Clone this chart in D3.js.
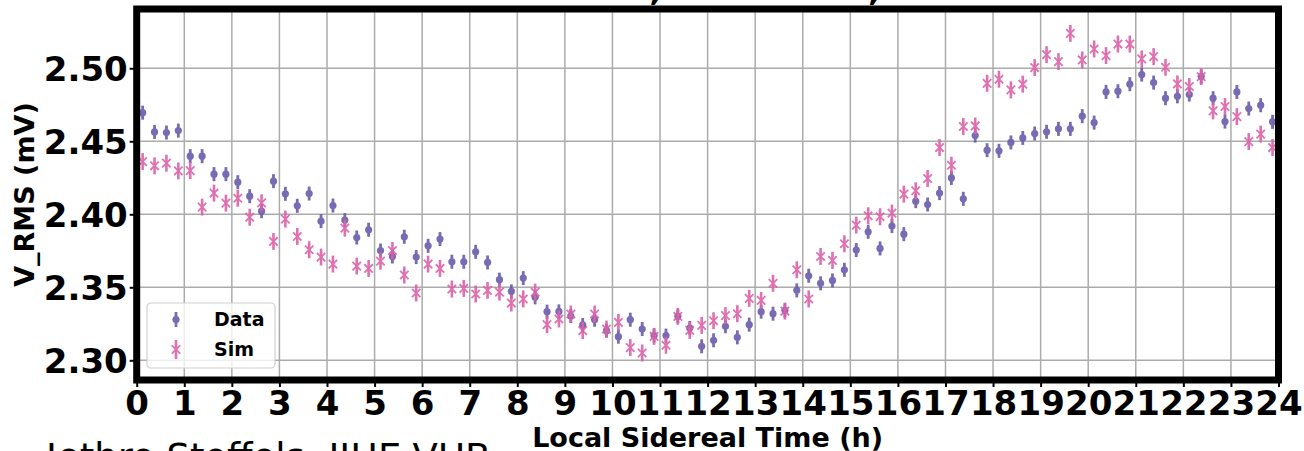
<!DOCTYPE html>
<html>
<head>
<meta charset="utf-8">
<script src="https://cdn.jsdelivr.net/npm/d3@7"></script>
<style>
  body { margin: 0; background: #fff; }
  svg { display: block; font-family: "DejaVu Sans", sans-serif; }
</style>
</head>
<body>
<div id="chart"></div>
<script>
// LST bin centres (h), 15 minute bins
const lst = d3.range(96).map((i) => 0.125 + i * 0.25);

// Measured V_RMS (mV)
const dataVrms = [
  2.4696, 2.4564, 2.4560, 2.4573, 2.4398, 2.4398, 2.4275, 2.4275, 2.4220, 2.4124,
  2.4021, 2.4227, 2.4140, 2.4058, 2.4142, 2.3953, 2.4060, 2.3960, 2.3841, 2.3894,
  2.3752, 2.3711, 2.3846, 2.3707, 2.3784, 2.3830, 2.3675, 2.3675, 2.3743, 2.3670,
  2.3552, 2.3472, 2.3563, 2.3431, 2.3333, 2.3335, 2.3303, 2.3242, 2.3278, 2.3203,
  2.3162, 2.3278, 2.3214, 2.3169, 2.3169, 2.3301, 2.3221, 2.3096, 2.3137, 2.3233,
  2.3157, 2.3244, 2.3333, 2.3319, 2.3342, 2.3479, 2.3579, 2.3527, 2.3547, 2.3620,
  2.3755, 2.3880, 2.3766, 2.3919, 2.3864, 2.4090, 2.4067, 2.4145, 2.4249, 2.4106,
  2.4539, 2.4439, 2.4435, 2.4492, 2.4523, 2.4553, 2.4565, 2.4585, 2.4585, 2.4672,
  2.4628, 2.4838, 2.4843, 2.4891, 2.4957, 2.4902, 2.4795, 2.4808, 2.4820, 2.4943,
  2.4795, 2.4635, 2.4838, 2.4724, 2.4747, 2.4633,
];

// Simulated V_RMS (mV)
const simVrms = [
  2.4361, 2.4332, 2.4350, 2.4297, 2.4299, 2.4049, 2.4145, 2.4076, 2.4110, 2.3980,
  2.4078, 2.3814, 2.3967, 2.3848, 2.3757, 2.3707, 2.3659, 2.3905, 2.3645, 2.3629,
  2.3679, 2.3752, 2.3584, 2.3461, 2.3659, 2.3629, 2.3488, 2.3492, 2.3454, 2.3479,
  2.3467, 2.3392, 2.3420, 2.3467, 2.3244, 2.3283, 2.3317, 2.3203, 2.3317, 2.3214,
  2.3260, 2.3087, 2.3050, 2.3164, 2.3103, 2.3301, 2.3205, 2.3239, 2.3271, 2.3306,
  2.3319, 2.3424, 2.3410, 2.3527, 2.3337, 2.3620, 2.3420, 2.3711, 2.3684, 2.3798,
  2.3926, 2.3990, 2.3983, 2.4008, 2.4138, 2.4161, 2.4245, 2.4457, 2.4336, 2.4601,
  2.4605, 2.4897, 2.4925, 2.4852, 2.4891, 2.5005, 2.5093, 2.5046, 2.5239, 2.5057,
  2.5132, 2.5087, 2.5166, 2.5166, 2.5064, 2.5080, 2.5007, 2.4893, 2.4875, 2.4943,
  2.4708, 2.4738, 2.4669, 2.4498, 2.4549, 2.4457,
];

const dataErr = 0.0048;
const simErr = 0.0058;

const xTicks = d3.range(0, 25);
const yTicks = [2.30, 2.35, 2.40, 2.45, 2.50];

const width = 1304;
const height = 451;
const purple = "#6a5cab";
const pink = "#dc62a8";

const svg = d3
  .select("#chart")
  .append("svg")
  .attr("width", width)
  .attr("height", height);

const x = d3.scaleLinear().domain([0, 24]).range([136.7, 1278.5]);
const y = d3.scaleLinear().domain([2.2865, 2.5406]).range([380, 9]);

// Grid
svg
  .append("g")
  .selectAll("line.gx")
  .data(xTicks)
  .enter()
  .append("line")
  .attr("x1", (d) => x(d))
  .attr("x2", (d) => x(d))
  .attr("y1", y.range()[1])
  .attr("y2", y.range()[0])
  .attr("stroke", "#ababab")
  .attr("stroke-width", 1.5);

svg
  .append("g")
  .selectAll("line.gy")
  .data(yTicks)
  .enter()
  .append("line")
  .attr("x1", x.range()[0])
  .attr("x2", x.range()[1])
  .attr("y1", (d) => y(d))
  .attr("y2", (d) => y(d))
  .attr("stroke", "#ababab")
  .attr("stroke-width", 1.5);

// Data points: circle + vertical error bar
const gData = svg.append("g").attr("opacity", 0.9);
gData
  .selectAll("line")
  .data(lst)
  .enter()
  .append("line")
  .attr("x1", (d) => x(d))
  .attr("x2", (d) => x(d))
  .attr("y1", (d, i) => y(dataVrms[i] - dataErr))
  .attr("y2", (d, i) => y(dataVrms[i] + dataErr))
  .attr("stroke", purple)
  .attr("stroke-width", 2.8);
gData
  .selectAll("circle")
  .data(lst)
  .enter()
  .append("circle")
  .attr("cx", (d) => x(d))
  .attr("cy", (d, i) => y(dataVrms[i]))
  .attr("r", 3.6)
  .attr("fill", purple);

// Sim points: x marker + vertical error bar
const xMark = (cx, cy, s) =>
  `M${cx - s},${cy - s}L${cx + s},${cy + s}M${cx - s},${cy + s}L${cx + s},${cy - s}`;

const gSim = svg.append("g").attr("opacity", 0.9);
gSim
  .selectAll("line")
  .data(lst)
  .enter()
  .append("line")
  .attr("x1", (d) => x(d))
  .attr("x2", (d) => x(d))
  .attr("y1", (d, i) => y(simVrms[i] - simErr))
  .attr("y2", (d, i) => y(simVrms[i] + simErr))
  .attr("stroke", pink)
  .attr("stroke-width", 2.6);
gSim
  .selectAll("path")
  .data(lst)
  .enter()
  .append("path")
  .attr("d", (d, i) => xMark(x(d), y(simVrms[i]), 4.2))
  .attr("stroke", pink)
  .attr("stroke-width", 1.8)
  .attr("fill", "none");

// Axes
const xAxis = svg
  .append("g")
  .attr("transform", `translate(0, ${y.range()[0]})`)
  .call(d3.axisBottom(x).tickValues(xTicks).tickSize(7).tickPadding(4).tickFormat(d3.format("d")));
const yAxis = svg
  .append("g")
  .attr("transform", `translate(${x.range()[0]}, 0)`)
  .call(d3.axisLeft(y).tickValues(yTicks).tickSize(7).tickPadding(3).tickFormat(d3.format(".2f")));

[xAxis, yAxis].forEach((ax) => {
  ax.select(".domain").remove();
  ax.selectAll(".tick line").attr("stroke", "#000").attr("stroke-width", 2);
  ax.selectAll(".tick text")
    .attr("fill", "#000")
    .style("font-family", "'DejaVu Sans', sans-serif")
    .style("font-size", "34px")
    .style("font-weight", "bold");
});
xAxis.selectAll(".tick text").attr("dy", "0.71em").attr("y", 11);
yAxis.selectAll(".tick text").attr("x", -9).attr("dy", "0.36em");

// Frame (thick spines)
svg
  .append("rect")
  .attr("x", x.range()[0])
  .attr("y", y.range()[1])
  .attr("width", x.range()[1] - x.range()[0])
  .attr("height", y.range()[0] - y.range()[1])
  .attr("fill", "none")
  .attr("stroke", "#000")
  .attr("stroke-width", 7);

// Legend
const legend = svg.append("g").attr("transform", "translate(147, 303)");
legend
  .append("rect")
  .attr("width", 128)
  .attr("height", 65)
  .attr("rx", 4)
  .attr("fill", "#fff")
  .attr("fill-opacity", 0.8)
  .attr("stroke", "#d0d0d0")
  .attr("stroke-width", 1.2);

const lg = legend.append("g").attr("opacity", 0.9);
lg.append("line")
  .attr("x1", 29).attr("x2", 29).attr("y1", 9).attr("y2", 24)
  .attr("stroke", purple).attr("stroke-width", 2.8);
lg.append("circle").attr("cx", 29).attr("cy", 16.5).attr("r", 3.6).attr("fill", purple);
lg.append("line")
  .attr("x1", 29).attr("x2", 29).attr("y1", 37).attr("y2", 56)
  .attr("stroke", pink).attr("stroke-width", 2.6);
lg.append("path")
  .attr("d", xMark(29, 46.5, 4.2))
  .attr("stroke", pink).attr("stroke-width", 1.8).attr("fill", "none");

legend
  .selectAll("text")
  .data(["Data", "Sim"])
  .enter()
  .append("text")
  .attr("x", 67)
  .attr("y", (d, i) => 23 + i * 30)
  .style("font-size", "19px")
  .style("font-weight", "bold")
  .text((d) => d);

// Axis titles
svg
  .append("text")
  .attr("x", (x.range()[0] + x.range()[1]) / 2)
  .attr("y", 447)
  .attr("text-anchor", "middle")
  .style("font-size", "27px")
  .style("font-weight", "bold")
  .text("Local Sidereal Time (h)");

svg
  .append("text")
  .attr("transform", `translate(34, ${(y.range()[0] + y.range()[1]) / 2}) rotate(-90)`)
  .attr("text-anchor", "middle")
  .style("font-size", "27px")
  .style("font-weight", "bold")
  .text("V_RMS (mV)");

// Title, mostly cut off by the top of the figure
svg
  .append("text")
  .attr("x", 730)
  .attr("y", 0)
  .attr("text-anchor", "middle")
  .style("font-size", "34px")
  .style("font-weight", "bold")
  .text("Galactic noise, station 23, channel 0");

// Credit, cut off at the bottom
svg
  .append("text")
  .attr("x", 46)
  .attr("y", 470)
  .style("font-size", "37px")
  .text("Jethro Stoffels, IIHE-VUB");
</script>
</body>
</html>
